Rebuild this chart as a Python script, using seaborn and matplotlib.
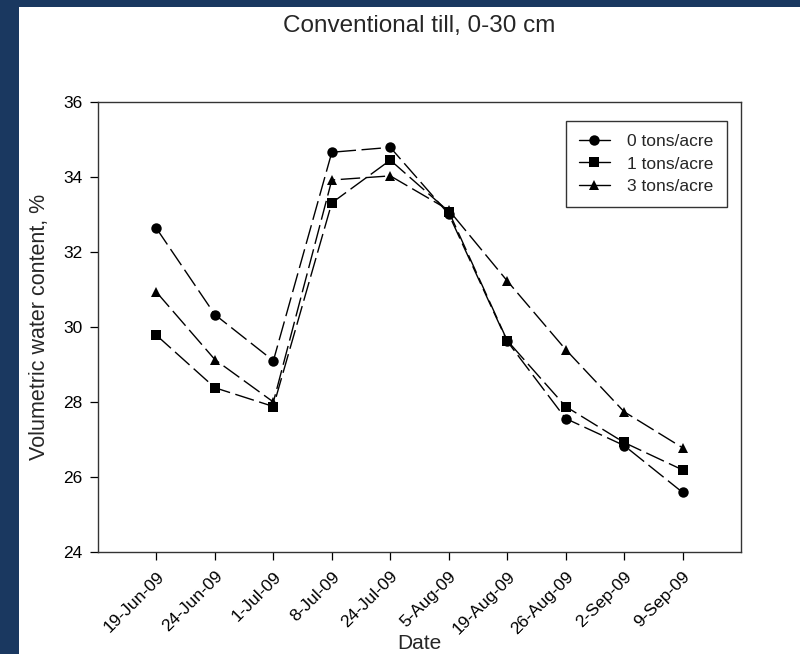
import matplotlib
matplotlib.use("Agg")
import matplotlib.pyplot as plt
from matplotlib.patches import Rectangle
from matplotlib.lines import Line2D
import seaborn as sns
import pandas as pd

dates = ["19-Jun-09", "24-Jun-09", "1-Jul-09", "8-Jul-09", "24-Jul-09",
         "5-Aug-09", "19-Aug-09", "26-Aug-09", "2-Sep-09", "9-Sep-09"]
rate_0 = [32.63, 30.33, 29.10, 34.66, 34.79, 33.01, 29.62, 27.56, 26.84, 25.59]
rate_1 = [29.78, 28.38, 27.88, 33.31, 34.45, 33.08, 29.64, 27.88, 26.92, 26.19]
rate_3 = [30.93, 29.13, 28.00, 33.92, 34.03, 33.12, 31.23, 29.40, 27.74, 26.78]
series_names = ["0 tons/acre", "1 tons/acre", "3 tons/acre"]

frames = []
for name, vals in zip(series_names, [rate_0, rate_1, rate_3]):
    frames.append(pd.DataFrame({"Date": dates, "VWC": vals, "Rate": name}))
df = pd.concat(frames, ignore_index=True)

sns.set_style("ticks")
plt.rcParams["font.family"] = ["Liberation Sans", "DejaVu Sans"]

W, H = 800, 654
fig = plt.figure(figsize=(W / 100, H / 100), dpi=100)
fig.patch.set_facecolor("#1a3860")
fig.add_artist(Rectangle((19 / W, 0), 1 - 19 / W, 1 - 7 / H,
                         transform=fig.transFigure, facecolor="white",
                         edgecolor="none", zorder=-10))

ax = fig.add_axes([98 / W, 102 / H, 643 / W, 450 / H])
ax.set_facecolor("white")

markers = {"0 tons/acre": "o", "1 tons/acre": "s", "3 tons/acre": "^"}
dashes = {n: (14, 4) for n in series_names}
sns.lineplot(data=df, x="Date", y="VWC", hue="Rate", style="Rate",
             palette=["black"] * 3, markers=markers, dashes=dashes,
             sort=False, linewidth=1.0, markersize=7.5, markeredgewidth=0,
             ax=ax, legend=False)

ax.set_xlim(-1, 10)
ax.set_ylim(24, 36)
ax.set_yticks([24, 26, 28, 30, 32, 34, 36])
ax.set_xticks(range(len(dates)))
ax.set_xticklabels(dates, rotation=45, ha="right", rotation_mode="anchor")
ax.tick_params(axis="both", direction="out", length=6, width=0.9,
               colors="black", labelsize=12.5, pad=5)
ax.tick_params(axis="x", pad=6)
for s in ax.spines.values():
    s.set_visible(True)
    s.set_color("#333333")
    s.set_linewidth(1.0)

ax.set_xlabel("Date", fontsize=15)
ax.xaxis.label.set_va("baseline")
ax.xaxis.set_label_coords(0.5, (552 - 649) / 450)
ax.set_ylabel("Volumetric water content, %", fontsize=15.5, labelpad=10)

fig.text((98 + 643 / 2) / W, 1 - 32 / H, "Conventional till, 0-30 cm",
         ha="center", va="baseline", fontsize=17.5)

handles = [Line2D([], [], color="black", lw=1.0, marker=markers[n],
                  markersize=7.5, markeredgewidth=0) for n in series_names]
leg = ax.legend(handles, series_names, loc="upper right",
                bbox_to_anchor=(0.978, 0.958), frameon=True, fancybox=False,
                edgecolor="black", fontsize=12.5, handlelength=1.8,
                handletextpad=1.0, borderpad=0.75, labelspacing=0.42,
                borderaxespad=0)
leg.get_frame().set_linewidth(1.0)

fig.savefig("out.png", dpi=100, facecolor=fig.get_facecolor())
